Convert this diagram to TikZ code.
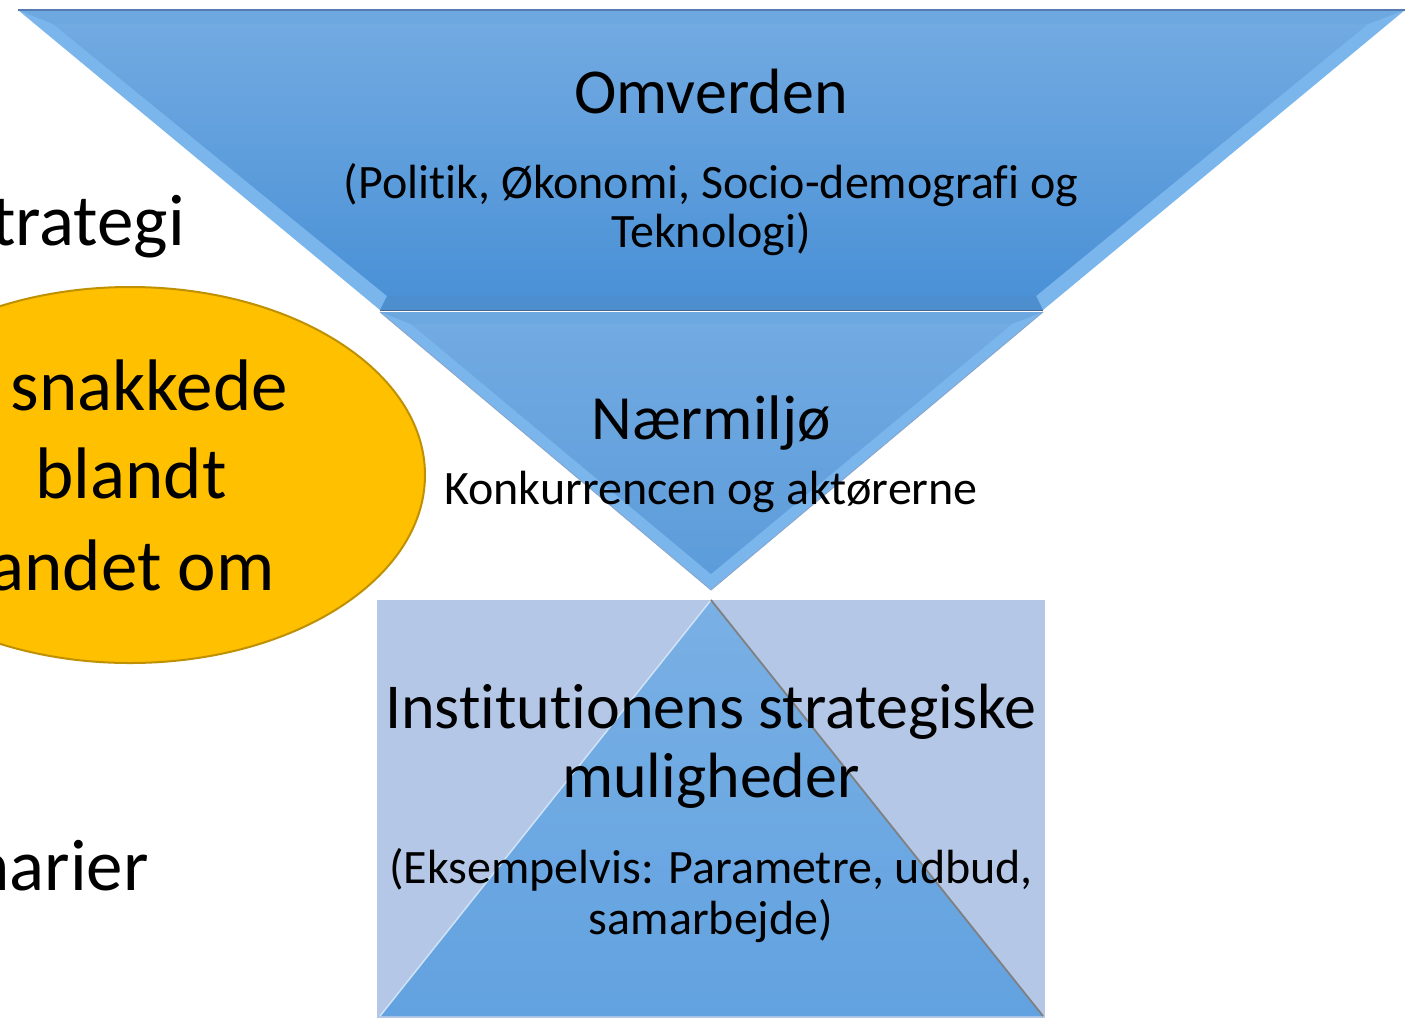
\documentclass[tikz,border=0pt]{standalone}
\usepackage{fontspec}
\setmainfont[Ligatures={NoCommon}]{Carlito}
\definecolor{bevlight}{RGB}{122,182,236}
\definecolor{bevtop}{RGB}{110,168,224}
\definecolor{bevbot}{RGB}{76,142,206}
\definecolor{mainTop}{RGB}{114,170,226}
\definecolor{mainBot}{RGB}{74,145,214}
\definecolor{edgeline}{RGB}{84,124,176}
\definecolor{rectfill}{RGB}{180,199,231}
\definecolor{trifill}{RGB}{98,162,224}
\definecolor{ellfill}{RGB}{255,192,0}
\definecolor{elldraw}{RGB}{191,144,0}
\tikzset{
  txt/.style={inner sep=0pt, text=black},
  big/.style={txt, font=\fontsize{73}{86}\selectfont},
  head/.style={txt, font=\fontsize{64}{76}\selectfont},
  sub/.style={txt, font=\fontsize{48}{56}\selectfont},
}
\begin{document}
\begin{tikzpicture}[x=1pt,y=-1pt]
\useasboundingbox (0,0) rectangle (1415,1018);
\clip (0,0) rectangle (1415,1018);
\fill[white] (0,0) rectangle (1415,1018);

% ellipse
\fill[ellfill, draw=elldraw, line width=2pt] (130,475) ellipse [x radius=295, y radius=188];
\node[big, anchor=base east] (el1) at (288,410) {snakkede};
\node[big, anchor=base] (el2) at (131,498) {blandt};
\node[big, anchor=base east] (el3) at (275,590) {andet om};

% left texts
\node[big, anchor=base east] (l1) at (185,245) {trategi};
\node[big, anchor=base east] (l2) at (149,890) {narier};

% top trapezoid
\fill[bevlight] (18,10) -- (1405,10) -- (1043,310) -- (380,310) -- cycle;
\fill[bevtop] (18,10) -- (1405,10) -- (1368,24) -- (53,24) -- cycle;
\fill[bevbot] (380,310) -- (1043,310) -- (1036,296) -- (387,296) -- cycle;
\shade[top color=mainTop, bottom color=mainBot] (53,24) -- (1368,24) -- (1036,296) -- (387,296) -- cycle;
\draw[edgeline, line width=1.2pt] (18,10) -- (1405,10);
\draw[edgeline!80!black, line width=1.5pt] (380,310.5) -- (1043,310.5);

% lower inverted triangle
\fill[bevlight] (380,312) -- (1043,312) -- (711,590) -- cycle;
\fill[bevtop] (380,312) -- (1043,312) -- (1012,324) -- (411,324) -- cycle;
\shade[top color=mainTop, bottom color=mainBot!90!white] (411,324) -- (1012,324) -- (711,574) -- cycle;
\draw[edgeline!70, line width=0.8pt] (380,312) -- (711,590) -- (1043,312);

\node[head, anchor=base] (om1) at (711,113) {Omverden};
\node[sub, anchor=base] (om2) at (711,198) {(Politik, Økonomi, Socio-demografi og};
\node[sub, anchor=base] (om3) at (711,247) {Teknologi)};
\node[head, font=\fontsize{63}{74}\selectfont, anchor=base] (nm1) at (711,439) {Nærmiljø};
\node[sub, anchor=base] (nm2) at (711,504) {Konkurrencen og aktørerne};

% bottom rectangle and triangle
\fill[rectfill] (377,600) rectangle (1045,1018);
\shade[top color=trifill!85!white, bottom color=trifill] (711,600) -- (1043,1016) -- (380,1016) -- cycle;
\draw[white!70!trifill, line width=1.5pt] (380,1016) -- (711,600);
\draw[gray, line width=1.8pt] (711,600) -- (1043,1016);

\node[head, anchor=base] (in1) at (711,728) {Institutionens strategiske};
\node[head, anchor=base] (in2) at (711,797) {muligheder};
\node[sub, anchor=base] (in3) at (711,883) {(Eksempelvis: Parametre, udbud,};
\node[sub, anchor=base] (in4) at (711,934) {samarbejde)};
\end{tikzpicture}
\end{document}
